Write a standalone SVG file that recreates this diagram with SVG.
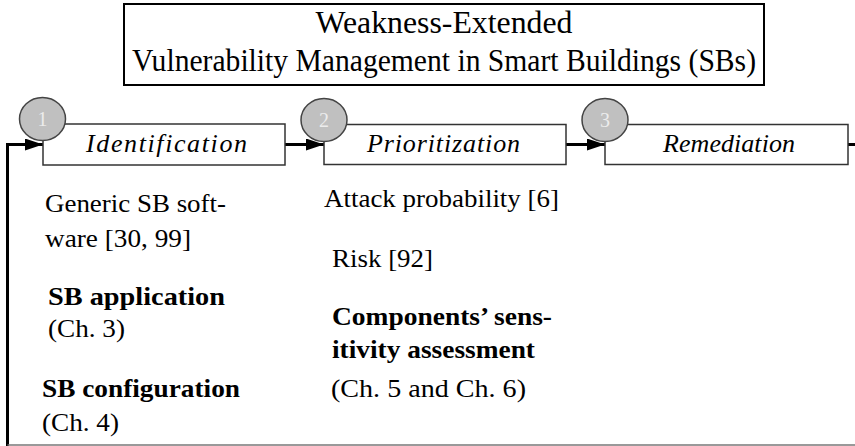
<svg xmlns="http://www.w3.org/2000/svg" width="855" height="446" viewBox="0 0 855 446">
  <defs>
    <marker id="arrowhead" viewBox="0 0 18 12" refX="18" refY="6" markerWidth="18" markerHeight="12" markerUnits="userSpaceOnUse" orient="auto">
      <path d="M0,0 L18,6 L0,12 Z" fill="#000"/>
    </marker>
    <style>
      text { font-family: 'Liberation Serif', Tinos, 'Times New Roman', Times, serif; }
      .title { font-size: 31px; fill: #000; text-anchor: middle; }
      .frame { fill: #fff; stroke: #000; stroke-width: 2; }
      .phase-box { fill: #fff; stroke: #333; stroke-width: 1.5; }
      .phase-label { font-style: italic; font-size: 26px; fill: #000; }
      .badge { fill: #c0c0c0; stroke: #444; stroke-width: 1.5; }
      .badge-num { font-size: 20px; fill: #ececec; text-anchor: middle; }
      .flow { fill: none; stroke: #000; stroke-width: 3; }
      .base { fill: none; stroke: #777; stroke-width: 1.5; }
      .item { font-size: 26px; fill: #000; }
      .item-b { font-size: 26px; font-weight: bold; fill: #000; }
    </style>
  </defs>

  <rect width="855" height="446" fill="#fff"/>

  <!-- Title -->
  <g id="title">
    <rect class="frame" x="124" y="4" width="640" height="81"/>
    <text class="title" x="444" y="33" textLength="257" lengthAdjust="spacingAndGlyphs">Weakness-Extended</text>
    <text class="title" x="444" y="71" textLength="624" lengthAdjust="spacingAndGlyphs">Vulnerability Management in Smart Buildings (SBs)</text>
  </g>

  <!-- Connectors -->
  <g id="connectors">
    <path class="flow" d="M7.5,446 V144.5 H43" marker-end="url(#arrowhead)"/>
    <path class="flow" d="M285,144.5 H324" marker-end="url(#arrowhead)"/>
    <path class="flow" d="M566,144.5 H605" marker-end="url(#arrowhead)"/>
    <path class="flow" d="M848,144.5 H855"/>
    <path class="base" d="M7.5,445 H855"/>
  </g>

  <!-- Phase 1 -->
  <g id="identification">
    <rect class="phase-box" x="43" y="124" width="242" height="41"/>
    <text class="phase-label" x="86" y="152" textLength="161" lengthAdjust="spacing">Identification</text>
    <ellipse class="badge" cx="42.5" cy="119" rx="23" ry="21.5"/>
    <text class="badge-num" x="42.5" y="126">1</text>
  </g>

  <!-- Phase 2 -->
  <g id="prioritization">
    <rect class="phase-box" x="324" y="124.5" width="242" height="40"/>
    <text class="phase-label" x="367" y="152" textLength="153" lengthAdjust="spacing">Prioritization</text>
    <ellipse class="badge" cx="324" cy="120" rx="23" ry="21.5"/>
    <text class="badge-num" x="324" y="127">2</text>
  </g>

  <!-- Phase 3 -->
  <g id="remediation">
    <rect class="phase-box" x="605" y="124.5" width="243" height="40"/>
    <text class="phase-label" x="663" y="152" textLength="132" lengthAdjust="spacing">Remediation</text>
    <ellipse class="badge" cx="605" cy="120" rx="23" ry="21.5"/>
    <text class="badge-num" x="605" y="127">3</text>
  </g>

  <!-- Identification approaches -->
  <g id="identification-items">
    <text class="item" x="45" y="212" textLength="181" lengthAdjust="spacingAndGlyphs">Generic SB soft-</text>
    <text class="item" x="45" y="247" textLength="146" lengthAdjust="spacingAndGlyphs">ware [30, 99]</text>
    <text class="item-b" x="48" y="305" textLength="177" lengthAdjust="spacingAndGlyphs">SB application</text>
    <text class="item" x="48" y="337" textLength="77" lengthAdjust="spacingAndGlyphs">(Ch. 3)</text>
    <text class="item-b" x="42" y="397" textLength="198" lengthAdjust="spacingAndGlyphs">SB configuration</text>
    <text class="item" x="42" y="431" textLength="77" lengthAdjust="spacingAndGlyphs">(Ch. 4)</text>
  </g>

  <!-- Prioritization approaches -->
  <g id="prioritization-items">
    <text class="item" x="324" y="207" textLength="235" lengthAdjust="spacingAndGlyphs">Attack probability [6]</text>
    <text class="item" x="332" y="267" textLength="101" lengthAdjust="spacingAndGlyphs">Risk [92]</text>
    <text class="item-b" x="332" y="325" textLength="220" lengthAdjust="spacingAndGlyphs">Components’ sens-</text>
    <text class="item-b" x="332" y="358" textLength="203" lengthAdjust="spacingAndGlyphs">itivity assessment</text>
    <text class="item" x="331" y="397" textLength="195" lengthAdjust="spacingAndGlyphs">(Ch. 5 and Ch. 6)</text>
  </g>
</svg>
